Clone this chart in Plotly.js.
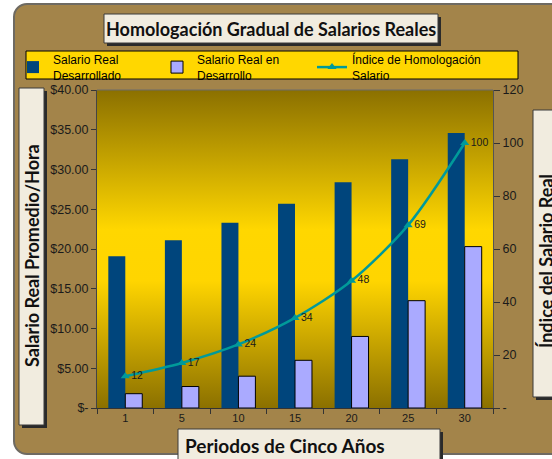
<!DOCTYPE html>
<html>
<head>
<meta charset="utf-8">
<script src="https://cdn.plot.ly/plotly-3.0.1.min.js"></script>
<style>
  html, body { margin: 0; padding: 0; background: #ffffff; width: 552px; height: 459px; overflow: hidden; }
  #frame { position: absolute; left: 13px; top: 3px; width: 560px; height: 452px; background: #A3844A; border: 2px solid #6E6A62; border-radius: 14px; box-sizing: border-box; }
  #chart { position: absolute; left: 0; top: 0; width: 552px; height: 459px; }
</style>
</head>
<body>
<div id="frame"></div>
<div id="chart"></div>
<script>
// ---- data ----
const periods = ['1', '5', '10', '15', '20', '25', '30'];
const salarioDesarrollado = [19.1, 21.1, 23.3, 25.7, 28.4, 31.3, 34.6];
const salarioEnDesarrollo = [1.8, 2.7, 4.0, 6.0, 9.0, 13.5, 20.3];
const indiceHomologacion = [12, 17, 24, 34, 48, 69, 100];
const yTickVals = [0, 5, 10, 15, 20, 25, 30, 35, 40];
const yTickText = ['$-', '$5.00', '$10.00', '$15.00', '$20.00', '$25.00', '$30.00', '$35.00', '$40.00'];
const y2TickVals = [0, 20, 40, 60, 80, 100, 120];
const y2TickText = ['-', '20', '40', '60', '80', '100', '120'];

// ---- layout helpers (pixel -> paper) ----
const W = 552, H = 459;
const L = 97, R = 493, T = 90, B = 408;
const px = x => (x - L) / (R - L);
const py = y => (B - y) / (B - T);

function box(x0, y0, x1, y1, shadow, fill, lineColor) {
  const out = [];
  if (shadow) {
    out.push({type: 'rect', xref: 'paper', yref: 'paper', x0: px(x0 + 3), x1: px(x1 + 3), y0: py(y0 + 3), y1: py(y1 + 3),
      fillcolor: '#2a2a2a', line: {width: 0}});
  }
  out.push({type: 'rect', xref: 'paper', yref: 'paper', x0: px(x0), x1: px(x1), y0: py(y0), y1: py(y1),
    fillcolor: fill || '#F1ECDF', line: {color: lineColor || '#3a3a3a', width: 1}});
  return out;
}

function legendAt(xPix) {
  return {orientation: 'h', x: px(xPix), y: py(45), xanchor: 'left', yanchor: 'top',
    bgcolor: 'rgba(0,0,0,0)', borderwidth: 0,
    font: {family: 'Arial, Liberation Sans, sans-serif', size: 12, color: '#000000'},
    itemclick: false};
}

const gradSvg = '<svg xmlns="http://www.w3.org/2000/svg" width="100" height="100" viewBox="0 0 100 100" preserveAspectRatio="none">' +
  '<defs><linearGradient id="g" x1="0" y1="0" x2="0" y2="1">' +
  '<stop offset="0" stop-color="#8B7000"/><stop offset="0.44" stop-color="#FFD700"/>' +
  '<stop offset="0.6" stop-color="#FFD500"/><stop offset="1" stop-color="#8B7000"/>' +
  '</linearGradient></defs><rect width="100" height="100" fill="url(#g)"/></svg>';

const traces = [
  {type: 'bar', name: 'Salario Real<br>Desarrollado', x: periods, y: salarioDesarrollado, legend: 'legend',
   marker: {color: '#00457C', line: {width: 0}}, hoverinfo: 'skip'},
  {type: 'bar', name: 'Salario Real en<br>Desarrollo', x: periods, y: salarioEnDesarrollo, legend: 'legend2',
   marker: {color: '#AAAAFF', line: {color: '#000000', width: 1}}, hoverinfo: 'skip'},
  {type: 'scatter', mode: 'lines+markers+text', name: 'Índice de Homologación<br>Salario', legend: 'legend3',
   x: periods, y: indiceHomologacion, yaxis: 'y2',
   text: indiceHomologacion.map(String), textposition: 'middle right',
   textfont: {family: 'Arial, Liberation Sans, sans-serif', size: 10.5, color: '#1a1a1a'},
   line: {color: '#009A9A', width: 2.5, shape: 'spline', smoothing: 0.8},
   marker: {symbol: 'triangle-up', size: 8, color: '#009A9A'}, cliponaxis: false, hoverinfo: 'skip'}
];

const axisFont = {family: 'Arial, Liberation Sans, sans-serif', size: 12.5, color: '#1a1a1a'};
const titleFont = {family: 'Lato, Noto Sans, sans-serif', size: 18, color: '#111111'};

const layout = {
  width: W, height: H,
  margin: {l: L, r: W - R, t: T, b: H - B, pad: 0},
  paper_bgcolor: 'rgba(0,0,0,0)',
  plot_bgcolor: '#FFD700',
  barmode: 'group', bargap: 0.4, bargroupgap: 0,
  showlegend: true,
  legend: legendAt(13),
  legend2: legendAt(157),
  legend3: legendAt(312),
  xaxis: {type: 'category', categoryorder: 'array', categoryarray: periods,
    showline: true, linecolor: '#333333', linewidth: 1, mirror: false,
    ticks: 'outside', tickson: 'boundaries', ticklen: 5, tickcolor: '#333333',
    tickfont: {family: 'Arial, Liberation Sans, sans-serif', size: 11, color: '#1a1a1a'},
    showgrid: false, zeroline: false, fixedrange: true},
  yaxis: {range: [0, 40], tickvals: yTickVals, ticktext: yTickText,
    showline: true, linecolor: '#444444', linewidth: 1, ticks: 'outside', ticklen: 5, tickcolor: '#333333',
    tickfont: axisFont, showgrid: false, zeroline: false, fixedrange: true},
  yaxis2: {overlaying: 'y', side: 'right', range: [0, 120], tickvals: y2TickVals, ticktext: y2TickText,
    showline: true, linecolor: '#555555', linewidth: 1, ticks: 'outside', ticklen: 6, tickcolor: '#333333',
    tickfont: axisFont, showgrid: false, zeroline: false, fixedrange: true},
  images: [{source: 'data:image/svg+xml;charset=utf-8,' + encodeURIComponent(gradSvg),
    xref: 'paper', yref: 'paper', x: 0, y: 1, sizex: 1, sizey: 1,
    xanchor: 'left', yanchor: 'top', sizing: 'stretch', layer: 'below'}],
  shapes: [].concat(
    [{type: 'line', xref: 'paper', yref: 'paper', x0: 0, x1: 1, y0: 1, y1: 1, line: {color: '#6a6a6a', width: 1}}],
    box(104, 14, 438, 43, true),
    box(26, 51, 518, 79, false, '#FFD700', '#000000'),
    box(19, 88, 44, 425, true),
    box(533, 110, 560, 397, true),
    box(178, 429, 440, 470, true)
  ),
  annotations: [
    {text: '<b>Homologación Gradual de Salarios Reales</b>', xref: 'paper', yref: 'paper',
     x: px(271), y: py(29), xanchor: 'center', yanchor: 'middle', showarrow: false, font: titleFont},
    {text: '<b>Salario Real Promedio/Hora</b>', xref: 'paper', yref: 'paper', textangle: -90,
     x: px(32), y: py(256), xanchor: 'center', yanchor: 'middle', showarrow: false, font: titleFont},
    {text: '<b>Índice del Salario Real</b>', xref: 'paper', yref: 'paper', textangle: -90,
     x: px(546), y: py(261), xanchor: 'center', yanchor: 'middle', showarrow: false, font: titleFont},
    {text: '<b>Periodos de Cinco Años</b>', xref: 'paper', yref: 'paper',
     x: px(183), y: py(445), xanchor: 'left', yanchor: 'middle', showarrow: false,
     font: {family: titleFont.family, size: 19, color: '#111111'}}
  ]
};

Plotly.newPlot('chart', traces, layout, {staticPlot: true, displayModeBar: false});
</script>
</body>
</html>
